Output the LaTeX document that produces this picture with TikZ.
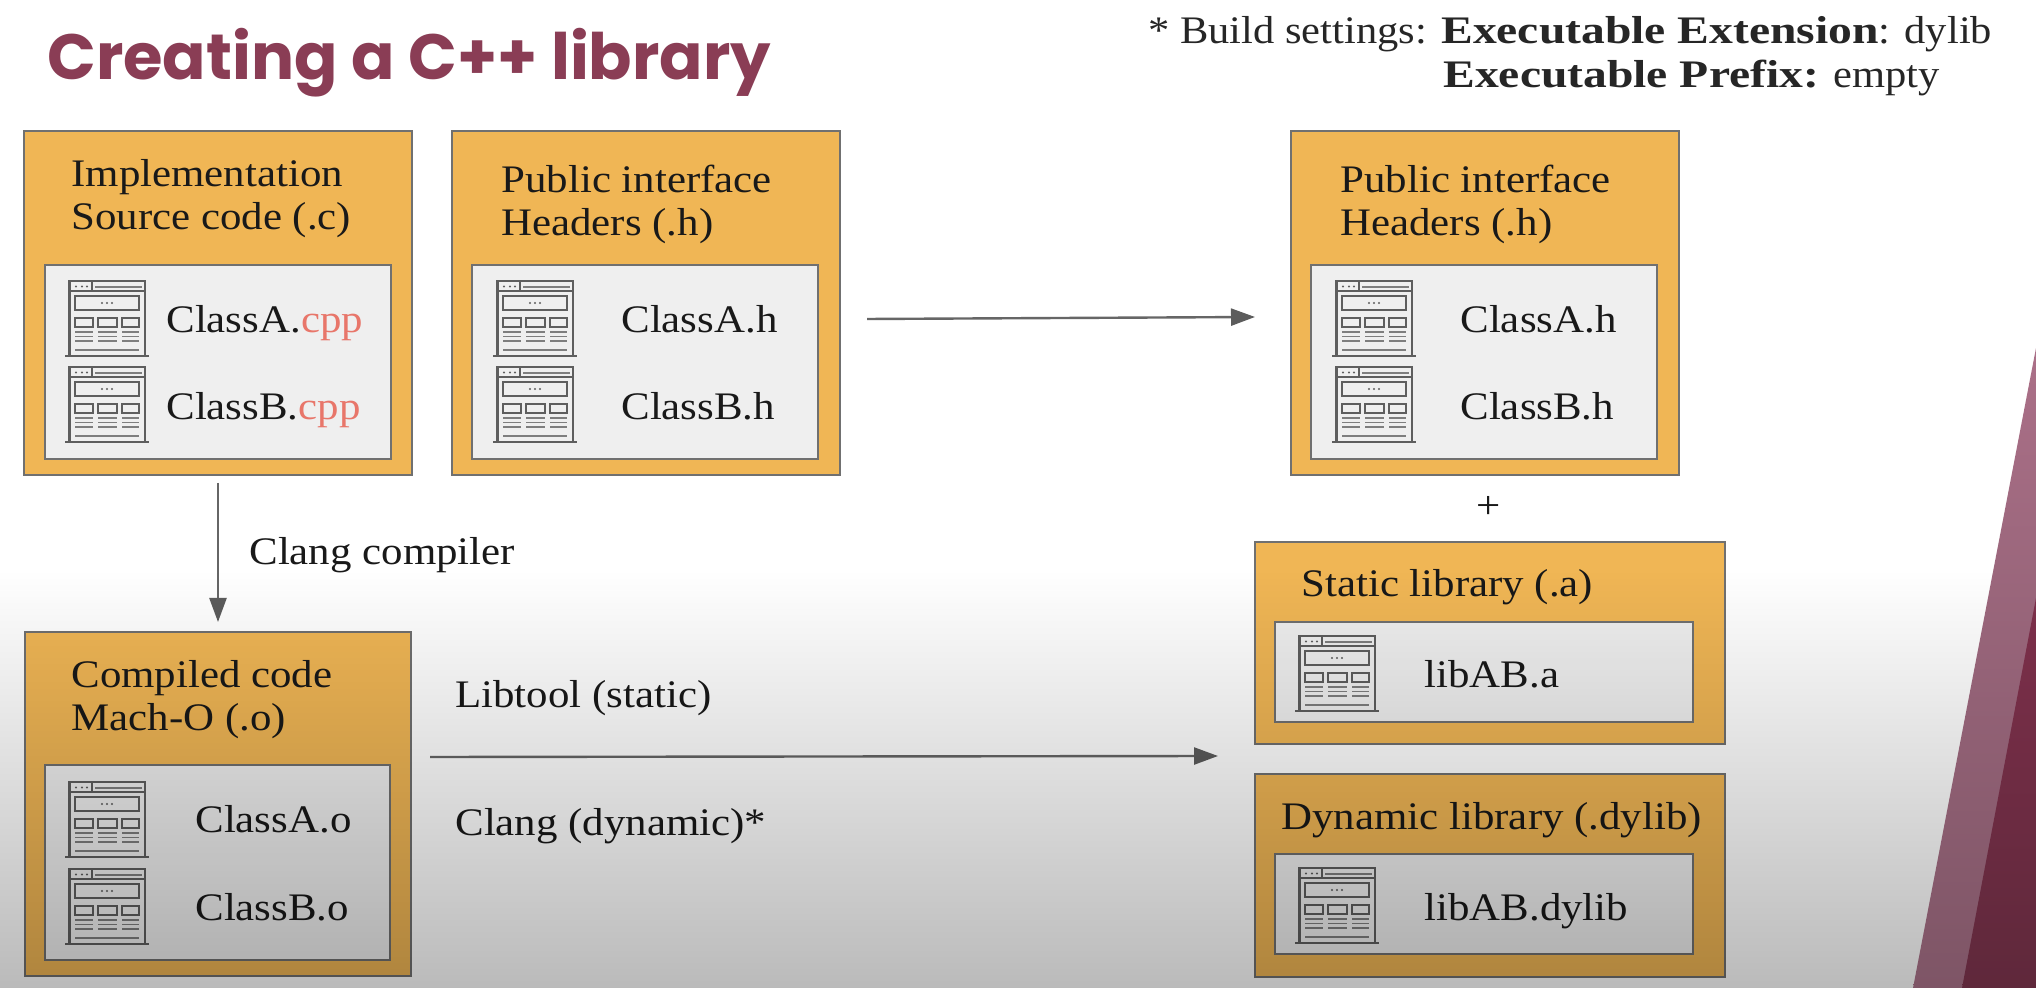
\documentclass[tikz,border=0pt]{standalone}
\usepackage{fontspec}
\setmainfont{Liberation Serif}[FakeStretch=1.1]
\newfontfamily\titlefont{Poppins}
\newfontfamily\notefont{Liberation Serif}[FakeStretch=1.09,BoldFeatures={FakeStretch=1.22}]
\usetikzlibrary{arrows.meta,fadings}
\definecolor{slidered}{HTML}{8A3D55}
\definecolor{boxorange}{HTML}{F0B655}
\definecolor{boxgrey}{HTML}{EFEFEF}
\definecolor{edgegrey}{HTML}{707070}
\definecolor{arrowgrey}{HTML}{666666}
\definecolor{iconline}{HTML}{5E5E5E}
\definecolor{cppred}{HTML}{E8766A}
\definecolor{stripetop}{HTML}{AB7088}
\definecolor{stripebot}{HTML}{7E5566}
\definecolor{darktop}{HTML}{7C2F4A}
\definecolor{darkbot}{HTML}{5F283B}
\tikzfading[name=greydown,top color=transparent!100,bottom color=transparent!73]
\tikzset{
  outerbox/.style={draw=edgegrey,line width=0.7pt,fill=boxorange,anchor=north west,inner sep=0,outer sep=0},
  innerbox/.style={draw=edgegrey,line width=0.7pt,fill=boxgrey,anchor=north west,inner sep=0,outer sep=0},
  headtext/.style={anchor=base west,inner sep=0,align=left,text=black!90,font=\fontsize{19.5}{21.5}\selectfont},
  filetext/.style={anchor=base west,inner sep=0,text=black!90,font=\fontsize{19.5}{21.5}\selectfont},
  notetext/.style={anchor=base west,inner sep=0,text=black!85,font=\notefont\fontsize{19.5}{21.5}\selectfont},
  stepline/.style={draw=arrowgrey,line width=1.2pt,-{Triangle[length=12pt,width=8.5pt,color=arrowgrey!90!black]}},
  pagepic/.pic={
    \draw[iconline,line width=1.1pt] (4.5,0) rectangle (80,75);
    \draw[iconline,line width=1.2pt] (0,75) -- (84,75);
    \draw[iconline,line width=0.9pt] (4.5,10) -- (80,10) (27,0) -- (27,10);
    \draw[iconline!80,line width=1pt] (30,6) -- (77,6) (10,69) -- (74,69);
    \draw[iconline,line width=0.9pt] (10,15) rectangle (74,29);
    \foreach \dotx in {11,17,22} \fill[iconline] (\dotx,5.5) circle (1.2);
    \foreach \dotx in {37,42,47} \fill[iconline] (\dotx,22) circle (1.2);
    \foreach \colx/\colw in {10/28,33/52,57/74} {
      \draw[iconline,line width=0.9pt] (\colx,37) rectangle (\colw,46);
      \draw[iconline!80,line width=0.9pt] (\colx,51) -- (\colw,51) (\colx,55.5) -- (\colw,55.5) (\colx,60) -- (\colw,60);
    }
  }
}
\begin{document}
\begin{tikzpicture}[x=0.5pt,y=-0.5pt]
  \useasboundingbox (0,0) rectangle (2036,988);
  \fill[white] (0,0) rectangle (2036,988);
  \node[anchor=base west,inner sep=0,text=slidered,font=\titlefont\bfseries\fontsize{32}{36}\selectfont] (title) at (47,80) {Creating a C++ library};
  \node[notetext] (buildnote) at (1148,44) {* Build settings: \textbf{Executable Extension}: dylib};
  \node[notetext] (prefixnote) at (1443,88) {\textbf{Executable Prefix:} empty};

  % source boxes
  \node[outerbox,minimum width=194pt,minimum height=172pt] (implbox) at (24,131) {};
  \node[innerbox,minimum width=173pt,minimum height=97pt] (implfiles) at (45,265) {};
  \node[headtext] (implhead) at (71,230) {Implementation\\Source code (.c)};
  \pic at (65,281) {pagepic};
  \pic at (65,367) {pagepic};
  \node[filetext] (implA) at (166,333) {ClassA.\textcolor{cppred}{cpp}};
  \node[filetext] (implB) at (166,420) {ClassB.\textcolor{cppred}{cpp}};

  \node[outerbox,minimum width=194pt,minimum height=172pt] (pubbox) at (452,131) {};
  \node[innerbox,minimum width=173pt,minimum height=97pt] (pubfiles) at (472,265) {};
  \node[headtext] (pubhead) at (501,236) {Public interface\\Headers (.h)};
  \pic at (493,281) {pagepic};
  \pic at (493,367) {pagepic};
  \node[filetext] (pubA) at (621,333) {ClassA.h};
  \node[filetext] (pubB) at (621,420) {ClassB.h};

  \node[outerbox,minimum width=194pt,minimum height=172pt] (distbox) at (1291,131) {};
  \node[innerbox,minimum width=173pt,minimum height=97pt] (distfiles) at (1311,265) {};
  \node[headtext] (disthead) at (1340,236) {Public interface\\Headers (.h)};
  \pic at (1332,281) {pagepic};
  \pic at (1332,367) {pagepic};
  \node[filetext] (distA) at (1460,333) {ClassA.h};
  \node[filetext] (distB) at (1460,420) {ClassB.h};

  % compiled and libraries
  \node[outerbox,minimum width=193pt,minimum height=172pt] (objbox) at (25,632) {};
  \node[innerbox,minimum width=172.5pt,minimum height=97.5pt] (objfiles) at (45,765) {};
  \node[headtext] (objhead) at (71,731) {Compiled code\\Mach-O (.o)};
  \pic at (65,782) {pagepic};
  \pic at (65,869) {pagepic};
  \node[filetext] (objA) at (195,833) {ClassA.o};
  \node[filetext] (objB) at (195,920) {ClassB.o};

  \node[outerbox,minimum width=235pt,minimum height=101pt] (staticbox) at (1255,542) {};
  \node[innerbox,minimum width=209pt,minimum height=50pt] (staticfiles) at (1275,622) {};
  \node[headtext] (statichead) at (1301,597) {Static library (.a)};
  \pic at (1295,636) {pagepic};
  \node[filetext] (staticA) at (1424,688) {libAB.a};

  \node[outerbox,minimum width=235pt,minimum height=101.5pt] (dynbox) at (1255,774) {};
  \node[innerbox,minimum width=209pt,minimum height=50pt] (dynfiles) at (1275,854) {};
  \node[headtext] (dynhead) at (1281,829) {Dynamic library (.dylib)};
  \pic at (1295,868) {pagepic};
  \node[filetext] (dynA) at (1424,921) {libAB.dylib};

  \node[filetext,anchor=center] (plus) at (1489,507) {+};

  % arrows
  \coordinate (compfrom) at (218,483);
  \coordinate (compto) at (218,622);
  \coordinate (copyfrom) at (867,319);
  \coordinate (copyto) at (1255,317);
  \coordinate (linkfrom) at (430,757);
  \coordinate (linkto) at (1218,756);
  \draw[stepline] (compfrom) to (compto);
  \draw[stepline] (copyfrom) to (copyto);
  \draw[stepline] (linkfrom) to (linkto);
  \node[filetext] (complabel) at (249,565) {Clang compiler};
  \node[filetext] (libtool) at (455,708) {Libtool (static)};
  \node[filetext] (clangdyn) at (455,835) {Clang (dynamic)*};

  % slide background
  \fill[black,path fading=greydown] (0,570) rectangle (2036,988);
  \shade[top color=stripetop,bottom color=stripebot] (1913,988) -- (2036,348) -- (2036,988) -- cycle;
  \shade[top color=darktop,bottom color=darkbot] (1962,988) -- (2036,598) -- (2036,988) -- cycle;
\end{tikzpicture}
\end{document}
